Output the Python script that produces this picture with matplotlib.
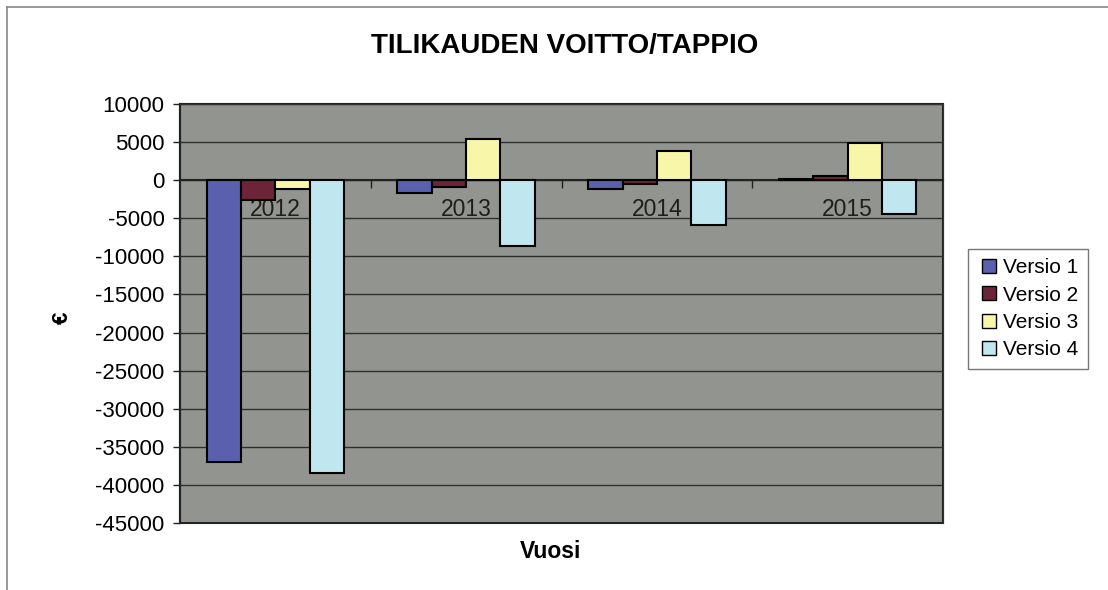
import matplotlib
matplotlib.use("Agg")
import matplotlib.pyplot as plt
import numpy as np
from matplotlib.lines import Line2D

plt.rcParams["font.family"] = ["Liberation Sans", "DejaVu Sans"]

years = ["2012", "2013", "2014", "2015"]
series = ["Versio 1", "Versio 2", "Versio 3", "Versio 4"]
versio1 = [-37000, -1700, -1100, 100]
versio2 = [-2600, -900, -500, 600]
versio3 = [-1200, 5400, 3800, 4900]
versio4 = [-38500, -8700, -5900, -4500]
colors = ["#5a5fae", "#6e2438", "#f8f6a8", "#c0e6f0"]
yticks = list(range(-45000, 10001, 5000))

fig = plt.figure(figsize=(11.08, 5.9), dpi=100)
ax = fig.add_axes([180 / 1108, 1 - 523 / 590, 763 / 1108, 419 / 590])
ax.set_facecolor("#91948f")
ax.patch.set_edgecolor("#222")
ax.patch.set_linewidth(1.5)

x = np.arange(len(years))
w = 0.18
for j, (vals, c, name) in enumerate(zip([versio1, versio2, versio3, versio4], colors, series)):
    ax.bar(x + (j - 1.5) * w, vals, w, color=c, edgecolor="black", linewidth=1.5,
           label=name, zorder=3)

ax.set_xlim(-0.5, 3.5)
ax.set_ylim(-45000, 10000)
ax.set_yticks(yticks)
ax.set_yticklabels([str(v) for v in yticks], fontsize=16)
ax.yaxis.grid(True, color="#2e2e2e", linewidth=1.0)
ax.set_axisbelow(True)
ax.tick_params(axis="y", direction="out", length=5, width=1, color="#222", pad=6)

# category axis crosses at zero
ax.spines["bottom"].set_position(("data", 0))
ax.spines["bottom"].set_color("#222")
ax.spines["bottom"].set_linewidth(1.5)
for s in ("top", "right"):
    ax.spines[s].set_color("#333")
ax.spines["left"].set_color("#222")
ax.spines["left"].set_linewidth(1.5)
ax.set_xticks([0.5, 1.5, 2.5])
ax.set_xticklabels([])
ax.tick_params(axis="x", which="major", direction="out", length=6, width=1, color="#222")
ax.set_xticks(x, minor=True)
ax.set_xticklabels(years, minor=True, fontsize=16.5, color="#1e1e1e")
ax.tick_params(axis="x", which="minor", length=0, pad=13)

ax.set_ylabel("€", fontsize=16, fontweight="bold")
ax.yaxis.set_label_coords(-0.141, 0.49)
ax.set_xlabel("Vuosi", fontsize=16.5, fontweight="bold")
ax.xaxis.set_label_coords(0.486, -0.041)

fig.text(565 / 1108, 1 - 46 / 590, "TILIKAUDEN VOITTO/TAPPIO", ha="center", va="center",
         fontsize=20, fontweight="bold")

handles = [Line2D([], [], linestyle="none", marker="s", markersize=10.5, markerfacecolor=c,
                  markeredgecolor="black", markeredgewidth=1.0) for c in colors]
leg = fig.legend(handles, series, loc="upper left", bbox_to_anchor=(968 / 1108, 1 - 249 / 590),
                 fontsize=15, frameon=True, fancybox=False, shadow=False, handlelength=1.1,
                 handletextpad=0.15, labelspacing=0.4, borderpad=0.45, borderaxespad=0)
leg.get_frame().set_edgecolor("#555")
leg.get_frame().set_linewidth(1.0)

# outer frame of the scanned chart
fig.add_artist(Line2D([7 / 1108, 1], [1 - 7 / 590, 1 - 7 / 590], color="#888", lw=1.2))
fig.add_artist(Line2D([7 / 1108, 7 / 1108], [0, 1 - 7 / 590], color="#888", lw=1.2))

fig.savefig("out.png", dpi=100)
